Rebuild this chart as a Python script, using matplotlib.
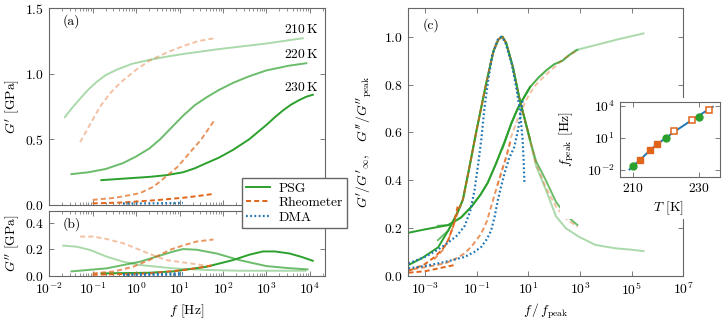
import numpy as np
import matplotlib
matplotlib.use('Agg')
import matplotlib.pyplot as plt
from matplotlib.patches import Rectangle
from matplotlib.ticker import LogLocator, NullFormatter, FixedLocator, NullLocator

plt.rcParams.update({
    'font.family': 'serif',
    'font.serif': ['cmr10'],
    'mathtext.fontset': 'cm',
    'axes.formatter.use_mathtext': True,
    'font.size': 9.8,
    'axes.unicode_minus': True,
})

green = '#2ca02c'
orange = '#e0651a'
blue = '#1f77b4'
spine_col = '0.4'
LIGHT, MED, FULL = 0.4, 0.7, 1.0

# ---- panel (a)/(b): log10 f [Hz], moduli [GPa]
psg210_lf = [-1.64, -1.5, -1.29, -1.1, -0.9, -0.7, -0.45, -0.1, 0.3, 0.7, 1.08, 1.85, 3.0, 3.84]
psg210_g1 = [0.67, 0.73, 0.81, 0.88, 0.94, 0.99, 1.03, 1.075, 1.105, 1.13, 1.15, 1.185, 1.23, 1.27]
psg210_lf2 = [-1.68, -1.37, -1.06, -0.68, -0.3, 0.09, 0.85, 1.62, 2.38, 3.1, 3.9]
psg210_g2 = [0.229, 0.221, 0.196, 0.146, 0.108, 0.083, 0.058, 0.046, 0.040, 0.040, 0.040]

psg220_lf = [-1.49, -1.1, -0.7, -0.3, 0.0, 0.3, 0.55, 0.8, 1.08, 1.35, 1.62, 1.9, 2.23, 2.6, 3.0, 3.5, 3.92]
psg220_g1 = [0.236, 0.25, 0.275, 0.32, 0.37, 0.43, 0.50, 0.585, 0.68, 0.76, 0.82, 0.875, 0.93, 0.98, 1.025, 1.06, 1.08]
psg220_lf2 = [-1.49, -0.68, 0.09, 0.47, 0.85, 1.08, 1.39, 1.85, 2.38, 3.0, 3.5, 3.95]
psg220_g2 = [0.035, 0.058, 0.108, 0.146, 0.184, 0.203, 0.198, 0.17, 0.12, 0.075, 0.06, 0.05]

psg230_lf = [-0.8, 0.31, 0.7, 1.08, 1.35, 1.62, 1.9, 2.23, 2.6, 3.0, 3.2, 3.38, 3.57, 3.76, 3.92, 4.07]
psg230_g1 = [0.19, 0.215, 0.228, 0.25, 0.28, 0.32, 0.36, 0.42, 0.50, 0.61, 0.67, 0.72, 0.765, 0.80, 0.825, 0.84]
psg230_lf2 = [-0.8, 0.3, 0.85, 1.62, 2.23, 2.6, 2.92, 3.2, 3.53, 3.8, 4.07]
psg230_g2 = [0.02, 0.025, 0.035, 0.07, 0.12, 0.16, 0.185, 0.185, 0.17, 0.145, 0.115]

rh1_lf = [-1.29, -1.05, -0.83, -0.6, -0.37, 0.0, 0.31, 0.7, 1.08, 1.45, 1.81]
rh1_g1 = [0.48, 0.62, 0.75, 0.85, 0.93, 1.03, 1.10, 1.16, 1.21, 1.25, 1.27]
rh1_lf2 = [-1.29, -0.99, -0.7, -0.3, 0.09, 0.4, 0.7, 1.23, 1.78]
rh1_g2 = [0.297, 0.297, 0.28, 0.247, 0.196, 0.155, 0.12, 0.096, 0.07]

rh2_lf = [-1.0, -0.5, 0.08, 0.4, 0.7, 0.95, 1.16, 1.5, 1.81]
rh2_g1 = [0.04, 0.055, 0.09, 0.14, 0.22, 0.29, 0.37, 0.5, 0.65]
rh2_lf2 = [-1.0, -0.5, -0.07, 0.3, 0.55, 0.8, 1.08, 1.4, 1.78]
rh2_g2 = [0.02, 0.035, 0.07, 0.12, 0.16, 0.2, 0.23, 0.26, 0.275]

rh3_lf = [-1.0, -0.3, 0.55, 1.2, 1.78]
rh3_g1 = [0.013, 0.02, 0.04, 0.06, 0.085]
rh3_lf2 = [-1.0, 0.31, 1.08, 1.5, 1.78]
rh3_g2 = [0.01, 0.02, 0.045, 0.065, 0.083]

dma_lf = [-0.3, 0.2, 0.7, 1.08]
dma_g1 = [0.012, 0.013, 0.015, 0.017]
dma_g2a = [0.008, 0.009, 0.010, 0.011]
dma_g2b = [0.012, 0.015, 0.018, 0.022]

# ---- panel (c): log10 f/fpeak, normalised moduli
c_psg230_loss_x = [-3.64, -3.13, -2.49, -2.1, -1.72, -1.53, -1.27, -1.02, -0.64, -0.35, -0.15, 0.0,
                   0.14, 0.4, 0.65, 0.85, 1.07]
c_psg230_loss_y = [0.046, 0.074, 0.12, 0.19, 0.27, 0.32, 0.46, 0.60, 0.80, 0.94, 0.99, 1.0,
                   0.975, 0.875, 0.745, 0.66, 0.57]
c_psg220_loss_x = [-2.5, -2.1, -1.72, -1.53, -1.27, -1.02, -0.64, -0.35, -0.15, 0.0, 0.14, 0.4,
                   0.65, 0.85, 1.04, 1.3, 1.68, 2.07, 2.45, 2.9]
c_psg220_loss_y = [0.15, 0.19, 0.27, 0.32, 0.46, 0.60, 0.80, 0.94, 0.99, 1.0, 0.975, 0.875,
                   0.745, 0.66, 0.58, 0.48, 0.40, 0.31, 0.255, 0.213]
c_psg210_loss_x = [0.0, 0.14, 0.4, 0.65, 0.85, 1.04, 1.3, 1.68, 2.07, 2.45, 2.96, 3.6, 4.37, 5.0, 5.46]
c_psg210_loss_y = [1.0, 0.975, 0.875, 0.745, 0.66, 0.575, 0.46, 0.36, 0.25, 0.2, 0.164, 0.13, 0.116, 0.11, 0.104]

c_psg230_stor_x = [-3.77, -3.0, -2.1, -1.6, -1.2, -0.85, -0.57, -0.25, 0.08, 0.35, 0.59, 0.85, 1.07]
c_psg230_stor_y = [0.178, 0.195, 0.213, 0.245, 0.29, 0.34, 0.39, 0.47, 0.56, 0.64, 0.70, 0.75, 0.79]
c_psg220_stor_x = [-2.5, -2.1, -1.6, -1.2, -0.85, -0.57, -0.25, 0.08, 0.35, 0.59, 0.85, 1.07, 1.4,
                   1.7, 2.0, 2.32, 2.6, 2.9]
c_psg220_stor_y = [0.21, 0.213, 0.245, 0.29, 0.34, 0.39, 0.47, 0.56, 0.64, 0.70, 0.75, 0.79, 0.83,
                   0.86, 0.885, 0.90, 0.925, 0.945]
c_psg210_stor_x = [0.0, 0.35, 0.59, 0.85, 1.07, 1.4, 1.7, 2.0, 2.32, 2.83, 3.6, 4.5, 5.46]
c_psg210_stor_y = [0.53, 0.64, 0.70, 0.75, 0.79, 0.83, 0.86, 0.885, 0.90, 0.944, 0.965, 0.99, 1.014]

c_rh1_loss_x = [-0.3, -0.15, 0.0, 0.14, 0.4, 0.65, 0.85, 1.04, 1.3, 1.68, 2.07, 2.45, 2.9]
c_rh1_loss_y = [0.96, 0.99, 1.0, 0.975, 0.875, 0.745, 0.66, 0.58, 0.47, 0.37, 0.29, 0.24, 0.206]
c_rh2_loss_x = [-2.65, -2.3, -2.1, -1.9, -1.72, -1.53, -1.27, -1.02, -0.64, -0.35, -0.15, 0.0, 0.15]
c_rh2_loss_y = [0.07, 0.11, 0.15, 0.21, 0.27, 0.32, 0.46, 0.60, 0.80, 0.94, 0.99, 1.0, 0.97]
c_rh3_loss_x = [-3.64, -3.38, -3.0, -2.62, -2.3, -2.1, -1.9, -1.72]
c_rh3_loss_y = [0.022, 0.032, 0.05, 0.08, 0.115, 0.15, 0.21, 0.297]

c_rh1_stor_x = [-0.2, 0.0, 0.15, 0.33, 0.6, 0.85, 1.04, 1.3, 1.62, 1.93, 2.4, 2.9]
c_rh1_stor_y = [0.38, 0.45, 0.50, 0.58, 0.66, 0.72, 0.76, 0.80, 0.835, 0.865, 0.91, 0.944]
c_rh2_stor_x = [-3.77, -3.26, -2.75, -2.23, -1.85, -1.46, -1.15, -0.82, -0.6, -0.44, -0.25, -0.05,
                0.15, 0.33]
c_rh2_stor_y = [0.025, 0.032, 0.042, 0.053, 0.07, 0.095, 0.13, 0.178, 0.23, 0.29, 0.36, 0.43,
                0.50, 0.57]
c_rh3_stor_x = [-3.64, -3.0, -2.49, -1.85]
c_rh3_stor_y = [0.014, 0.02, 0.032, 0.046]

c_dma_loss_x = [-3.64, -3.0, -2.5, -2.1, -1.75, -1.46, -1.25, -1.08, -0.95, -0.82, -0.7, -0.55,
                -0.4, -0.2, -0.05, 0.1, 0.2, 0.35, 0.46, 0.56, 0.65, 0.72, 0.78, 0.82, 0.85]
c_dma_loss_y = [0.053, 0.08, 0.11, 0.14, 0.17, 0.21, 0.27, 0.36, 0.46, 0.57, 0.70, 0.82,
                0.92, 0.985, 1.0, 0.98, 0.944, 0.89, 0.83, 0.77, 0.71, 0.64, 0.57, 0.48, 0.387]
c_dma_stor_x = [-3.64, -3.0, -2.49, -2.0, -1.46, -1.1, -0.82, -0.6, -0.44, -0.3, -0.18, -0.05,
                0.08, 0.25, 0.46, 0.6, 0.72, 0.78]
c_dma_stor_y = [0.032, 0.042, 0.053, 0.065, 0.08, 0.1, 0.122, 0.155, 0.19, 0.25, 0.317, 0.375,
                0.43, 0.49, 0.54, 0.61, 0.69, 0.735]

# ---- inset: peak frequency vs temperature
T_psg = [210, 220, 230]
lfp_psg = [-1.63, 1.03, 2.97]
T_rh = [212, 215.2, 217.2]
lfp_rh = [-1.06, -0.1, 0.4]
T_rh_open = [222.5, 227.8, 233]
lfp_rh_open = [1.65, 2.7, 3.6]
T_fit = [208.8, 210, 212, 215, 217.2, 220, 222.5, 225, 227.8, 230, 232, 234.2]
lfp_fit = [-1.95, -1.6, -1.06, -0.17, 0.4, 1.03, 1.6, 2.1, 2.68, 3.1, 3.5, 3.92]

f_ticks = [1e-2, 1e-1, 1e0, 1e1, 1e2, 1e3, 1e4]
fn_ticks = [1e-3, 1e-1, 1e1, 1e3, 1e5, 1e7]


def p10(v):
    return 10.0 ** np.asarray(v)


lw = 1.4
dash = (0, (2.6, 1.6))
dot = (0, (0.8, 1.1))

fig = plt.figure(figsize=(7.28, 3.21), dpi=100)
ax_a = fig.add_axes([0.0677, 0.361, 0.3787, 0.614])
ax_b = fig.add_axes([0.0677, 0.140, 0.3787, 0.203])
ax_c = fig.add_axes([0.561, 0.140, 0.3777, 0.835])
ax_in = fig.add_axes([0.8516, 0.4495, 0.1374, 0.2327], zorder=2)
fig.add_artist(Rectangle((0.769, 0.3178), 0.231, 0.377, transform=fig.transFigure,
                         facecolor='white', edgecolor='none', zorder=1))


def style(ax):
    for s in ax.spines.values():
        s.set_color(spine_col)
        s.set_linewidth(0.8)
    ax.tick_params(which='both', direction='in', top=True, right=True, color=spine_col,
                   pad=4)
    ax.tick_params(which='major', length=3.5, width=0.6)
    ax.tick_params(which='minor', length=2, width=0.5)


# panel (a) and (b)
psg = [(psg210_lf, psg210_g1, psg210_lf2, psg210_g2, LIGHT),
       (psg220_lf, psg220_g1, psg220_lf2, psg220_g2, MED),
       (psg230_lf, psg230_g1, psg230_lf2, psg230_g2, FULL)]
rheo = [(rh1_lf, rh1_g1, rh1_lf2, rh1_g2, LIGHT),
        (rh2_lf, rh2_g1, rh2_lf2, rh2_g2, MED),
        (rh3_lf, rh3_g1, rh3_lf2, rh3_g2, FULL)]
for lf, g1, lf2, g2, a in psg:
    ax_a.plot(p10(lf), g1, color=green, alpha=a, lw=lw)
    ax_b.plot(p10(lf2), g2, color=green, alpha=a, lw=lw)
for lf, g1, lf2, g2, a in rheo:
    ax_a.plot(p10(lf), g1, color=orange, alpha=a, lw=lw, ls=dash)
    ax_b.plot(p10(lf2), g2, color=orange, alpha=a, lw=lw, ls=dash)
ax_a.plot(p10(dma_lf), dma_g1, color=blue, lw=1.6, ls=dot)
ax_b.plot(p10(dma_lf), dma_g2a, color=blue, lw=1.6, ls=dot)
ax_b.plot(p10(dma_lf), dma_g2b, color=blue, lw=1.6, ls=dot)

for ax in (ax_a, ax_b):
    ax.set_xscale('log')
    ax.set_xlim(1e-2, 10 ** 4.35)
    ax.xaxis.set_major_locator(FixedLocator(f_ticks))
    ax.xaxis.set_minor_locator(LogLocator(base=10, subs=np.arange(2, 10), numticks=20))
    ax.xaxis.set_minor_formatter(NullFormatter())
    style(ax)
ax_a.set_ylim(0, 1.5)
ax_a.set_yticks([0.0, 0.5, 1.0, 1.5])
ax_a.tick_params(labelbottom=False)
ax_b.set_ylim(0, 0.49)
ax_b.set_yticks([0.0, 0.2, 0.4])
ax_a.set_ylabel("$G'$ [GPa]")
ax_b.set_ylabel("$G''$ [GPa]")
ax_a.yaxis.set_label_coords(-0.1, 0.5)
ax_b.yaxis.set_label_coords(-0.1, 0.5)
ax_b.set_xlabel('$f$ [Hz]', labelpad=4)
ax_a.text(0.05, 0.935, '(a)', transform=ax_a.transAxes, ha='left', va='center')
ax_b.text(0.05, 0.80, '(b)', transform=ax_b.transAxes, ha='left', va='center')
ax_a.text(10 ** 3.80, 1.338, '210$\\,$K', ha='center', va='center')
ax_a.text(10 ** 3.80, 1.148, '220$\\,$K', ha='center', va='center')
ax_a.text(10 ** 3.80, 0.896, '230$\\,$K', ha='center', va='center')

# panel (c)
c_green = [(c_psg210_stor_x, c_psg210_stor_y, LIGHT), (c_psg210_loss_x, c_psg210_loss_y, LIGHT),
           (c_psg220_stor_x, c_psg220_stor_y, MED), (c_psg220_loss_x, c_psg220_loss_y, MED),
           (c_psg230_stor_x, c_psg230_stor_y, FULL), (c_psg230_loss_x, c_psg230_loss_y, FULL)]
c_orange = [(c_rh1_stor_x, c_rh1_stor_y, LIGHT), (c_rh1_loss_x, c_rh1_loss_y, LIGHT),
            (c_rh2_stor_x, c_rh2_stor_y, MED), (c_rh2_loss_x, c_rh2_loss_y, MED),
            (c_rh3_stor_x, c_rh3_stor_y, FULL), (c_rh3_loss_x, c_rh3_loss_y, FULL)]
for x, y, a in c_green:
    ax_c.plot(p10(x), y, color=green, alpha=a, lw=lw)
for x, y, a in c_orange:
    ax_c.plot(p10(x), y, color=orange, alpha=a, lw=lw, ls=dash)
ax_c.plot(p10(c_dma_loss_x), c_dma_loss_y, color=blue, lw=1.6, ls=dot)
ax_c.plot(p10(c_dma_stor_x), c_dma_stor_y, color=blue, lw=1.6, ls=dot)
ax_c.set_xscale('log')
ax_c.set_xlim(10 ** -3.64, 1e7)
ax_c.xaxis.set_major_locator(FixedLocator(fn_ticks))
ax_c.xaxis.set_minor_locator(NullLocator())
ax_c.set_ylim(0, 1.12)
ax_c.set_yticks([0.0, 0.2, 0.4, 0.6, 0.8, 1.0])
style(ax_c)
ax_c.set_ylabel("$G'/G'_{\\infty}$,   $G''/G''_{\\mathrm{peak}}$")
ax_c.yaxis.set_label_coords(-0.125, 0.5)
ax_c.set_xlabel('$f\\,/\\,f_{\\mathrm{peak}}$', labelpad=2.5)
ax_c.text(0.05, 0.935, '(c)', transform=ax_c.transAxes, ha='left', va='center')

# inset
ax_in.plot(T_fit, p10(lfp_fit), color=blue, lw=1.4)
ax_in.plot(T_psg, p10(lfp_psg), 'o', color=green, ms=5, mec=green)
ax_in.plot(T_rh, p10(lfp_rh), 's', color=orange, ms=5, mec=orange)
ax_in.plot(T_rh_open, p10(lfp_rh_open), 's', mfc='white', mec=orange, mew=1.1, ms=4.6)
ax_in.set_yscale('log')
ax_in.set_ylim(10 ** -2.63, 10 ** 4.37)
ax_in.set_xlim(205.9, 236.4)
ax_in.yaxis.set_major_locator(FixedLocator([1e-2, 1e1, 1e4]))
ax_in.yaxis.set_minor_locator(NullLocator())
ax_in.set_xticks([210, 230])
style(ax_in)
ax_in.set_ylabel('$f_{\\mathrm{peak}}$ [Hz]')
ax_in.yaxis.set_label_coords(-0.44, 0.5)
ax_in.set_xlabel('$T$ [K]')
ax_in.xaxis.set_label_coords(0.48, -0.30)

# legend
fig.legend(handles=[plt.Line2D([], [], color=green, lw=lw),
                    plt.Line2D([], [], color=orange, lw=lw, ls=dash),
                    plt.Line2D([], [], color=blue, lw=1.6, ls=dot)],
           labels=['PSG', 'Rheometer', 'DMA'],
           loc='upper left', bbox_to_anchor=(0.332, 0.4455), borderaxespad=0,
           fancybox=False, edgecolor=spine_col, framealpha=1, handlelength=1.8,
           handletextpad=0.6, borderpad=0.3, labelspacing=0.15)

fig.savefig('out.png', dpi=100)
